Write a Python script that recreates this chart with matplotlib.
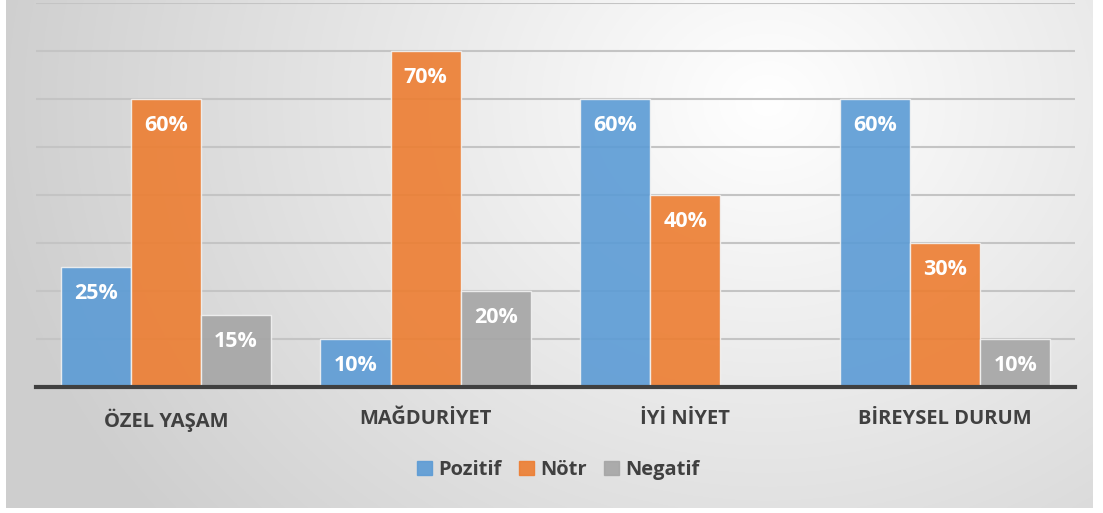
import numpy as np
import matplotlib.pyplot as plt
from matplotlib.patches import Rectangle

"""Chart data"""
categories = ['ÖZEL YAŞAM', 'MAĞDURİYET', 'İYİ NİYET', 'BİREYSEL DURUM']
series_names = ['Pozitif', 'Nötr', 'Negatif']
pozitif = [25, 10, 60, 60]
notr = [60, 70, 40, 30]
negatif = [15, 20, 0, 10]
colors = ['#5B9BD5', '#ED7D31', '#A5A5A5']

plt.rcParams['font.family'] = ['Open Sans', 'DejaVu Sans']

fig = plt.figure(figsize=(11.03, 5.13), dpi=100)

"""Radial gradient background"""
bg = fig.add_axes([6 / 1103, 5 / 513, 1087 / 1103, 508 / 513], zorder=-10)
h, w = 300, 640
yy, xx = np.mgrid[0:h, 0:w]
cx, cy = 0.7 * w, 0.2 * h
d = np.sqrt(((xx - cx) / w) ** 2 + ((yy - cy) / h * 0.55) ** 2)
d = np.clip(d / 0.72, 0, 1)
shade = 1.0 - 0.19 * d
img = np.dstack([shade, shade, shade])
bg.imshow(img, aspect='auto', extent=[0, 1, 0, 1], origin='upper')
bg.set_xlim(0, 1)
bg.set_ylim(0, 1)
bg.axis('off')

ax = fig.add_axes([36 / 1103, 126 / 513, 1039 / 1103, 384 / 513])
ax.set_facecolor('none')

x = np.arange(len(categories))
width = 0.27
all_series = [pozitif, notr, negatif]
for i, vals in enumerate(all_series):
    pos = x + (i - 1) * width
    for xp, v in zip(pos, vals):
        if v == 0:
            continue
        ax.bar(xp, v, width, color=colors[i], alpha=0.9, edgecolor='#f2f2f2',
               linewidth=1, zorder=3)
        ax.text(xp, v - 5.6, f'{v}%', ha='center', va='center', color='white',
                fontsize=15.5, fontweight='bold', zorder=4)

ax.set_xlim(-0.5, len(categories) - 0.5)
ax.set_ylim(0, 80)
ax.set_yticks(np.arange(0, 81, 10))
ax.yaxis.grid(True, color='#c4c4c4', linewidth=1.5, zorder=0)
ax.tick_params(axis='y', left=False, labelleft=False)
ax.tick_params(axis='x', bottom=False, pad=12)
ax.set_xticks(x)
ax.set_xticklabels(categories, fontsize=14.5, fontweight='bold', color='#404040')
for s in ['top', 'left', 'right']:
    ax.spines[s].set_visible(False)
ax.spines['bottom'].set_color('#404040')
ax.spines['bottom'].set_linewidth(3)
ax.spines['bottom'].set_zorder(5)

handles = [Rectangle((0, 0), 1, 1, color=c, alpha=0.9) for c in colors]
leg = fig.legend(handles, series_names, loc='center', bbox_to_anchor=(0.506, 1 - 470 / 513),
                 ncol=3, frameon=False, handlelength=0.75, handleheight=0.75,
                 handletextpad=0.3, columnspacing=0.85,
                 prop={'size': 14.5, 'weight': 'bold'})
for t in leg.get_texts():
    t.set_color('#404040')

fig.savefig('out.png', dpi=100)
